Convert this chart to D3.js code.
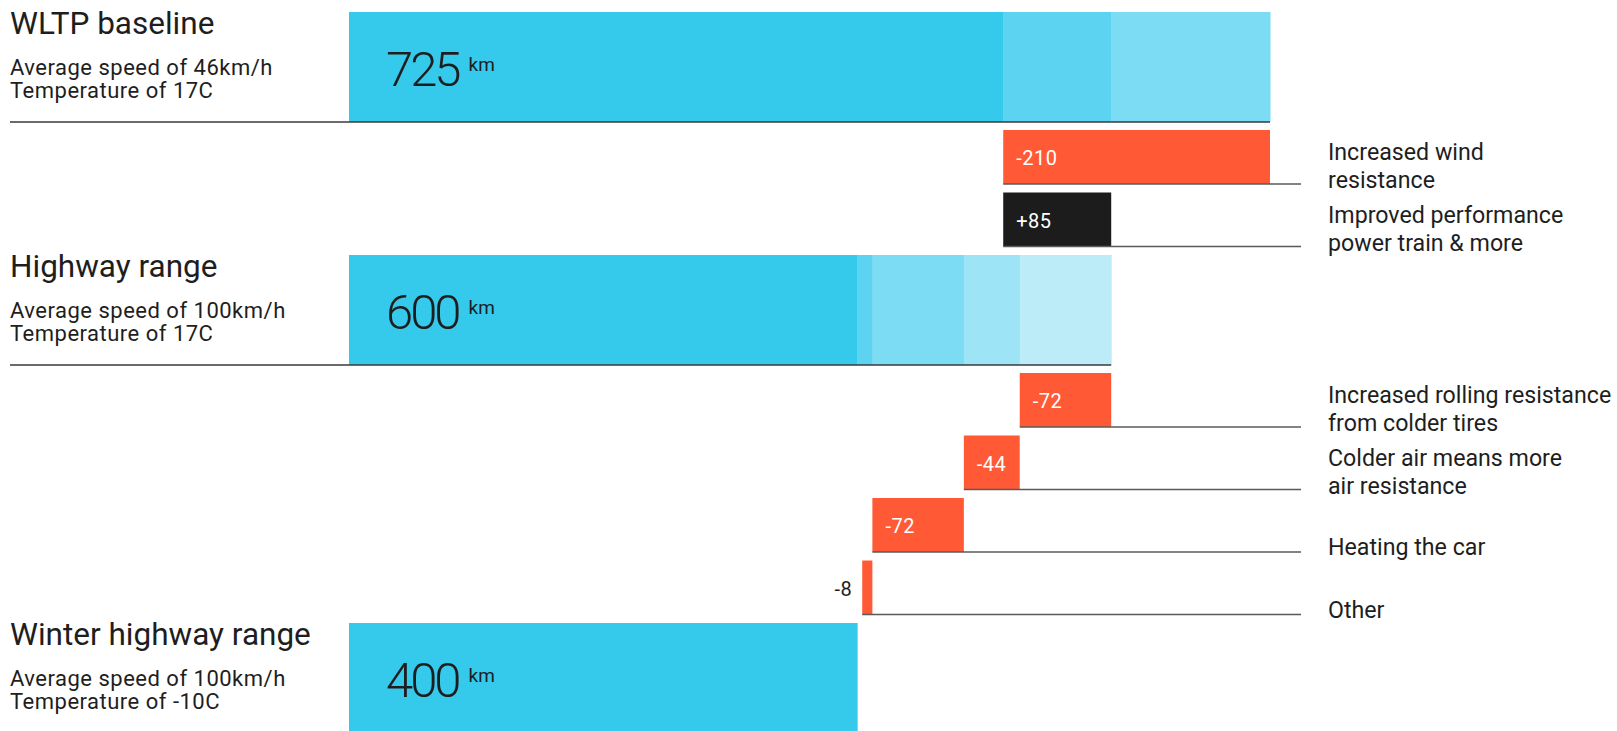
<!DOCTYPE html>
<html>
<head>
<meta charset="utf-8">
<script src="https://cdn.jsdelivr.net/npm/d3@7"></script>
<style>
  html, body { margin: 0; padding: 0; background: #fff; }
  svg { display: block; }
  text { font-family: Roboto, "Noto Sans", sans-serif; }
</style>
</head>
<body>
<svg id="chart" width="1617" height="731"></svg>
<script>
// Range summaries (km)
const summaryNames = ["WLTP baseline", "Highway range", "Winter highway range"];
const summarySpeed = ["Average speed of 46km/h", "Average speed of 100km/h", "Average speed of 100km/h"];
const summaryTemp  = ["Temperature of 17C", "Temperature of 17C", "Temperature of -10C"];
const summaryRange = [725, 600, 400];

// Changes applied between summaries (km)
const changeValues = [-210, 85, -72, -44, -72, -8];
const changeLabels = [
  ["Increased wind", "resistance"],
  ["Improved performance", "power train & more"],
  ["Increased rolling resistance", "from colder tires"],
  ["Colder air means more", "air resistance"],
  ["Heating the car"],
  ["Other"]
];
// Which summary each change follows
const changeSection = [0, 0, 1, 1, 1, 1];

const blueShades = ["#35c9ec", "#5cd3f0", "#7cdcf3", "#9de4f6", "#bcecf8"];
const lossColor = "#ff5a35";
const gainColor = "#1c1c1c";

const svg = d3.select("#chart");
const x = d3.scaleLinear().domain([0, 725]).range([349, 1270]);

const summaryH = 110, changeH = 54, changePitch = 62.5, gap = 8, top0 = 12;
const labelX = 1328, leaderEnd = 1301, leftX = 10;

// Build the row sequence: summary, its changes, next summary ...
const rows = [];
let y = top0;
summaryRange.forEach((v, si) => {
  rows.push({ type: "summary", i: si, y });
  y += summaryH + gap;
  let running = v;
  changeValues.forEach((c, ci) => {
    if (changeSection[ci] !== si) return;
    const from = running, to = running + c;
    rows.push({ type: "change", i: ci, y, from, to });
    running = to;
    y += changePitch;
  });
});

// Segment boundaries inside each summary bar: start of every following change, plus next summary
function segmentsFor(si) {
  const v = summaryRange[si];
  const stops = new Set([0, v]);
  rows.filter(r => r.type === "change" && changeSection[r.i] === si).forEach(r => stops.add(r.from));
  if (si + 1 < summaryRange.length) stops.add(summaryRange[si + 1]);
  const s = Array.from(stops).filter(d => d <= v).sort((a, b) => a - b);
  return d3.pairs(s).map(([a, b], k) => ({ a, b, k }));
}

// Summary rows
rows.filter(r => r.type === "summary").forEach(r => {
  const g = svg.append("g");
  const segs = segmentsFor(r.i);
  g.selectAll("rect").data(segs).join("rect")
    .attr("x", d => x(d.a))
    .attr("width", d => x(d.b) - x(d.a) + 0.5)
    .attr("y", r.y)
    .attr("height", summaryH)
    .attr("fill", d => blueShades[Math.min(d.k, blueShades.length - 1)]);

  g.append("line")
    .attr("x1", leftX).attr("x2", x(summaryRange[r.i]))
    .attr("y1", r.y + summaryH).attr("y2", r.y + summaryH)
    .attr("stroke", "#3a3a3a").attr("stroke-width", 1.6);

  g.append("text").attr("x", leftX).attr("y", r.y + 22)
    .attr("font-size", 31.5).attr("fill", "#1e1e1e").text(summaryNames[r.i]);
  g.append("text").attr("x", leftX).attr("y", r.y + 63)
    .attr("font-size", 22).attr("letter-spacing", 0.5).attr("fill", "#1e1e1e").text(summarySpeed[r.i]);
  g.append("text").attr("x", leftX).attr("y", r.y + 86)
    .attr("font-size", 22).attr("letter-spacing", 0.5).attr("fill", "#1e1e1e").text(summaryTemp[r.i]);

  const big = g.append("text").attr("x", x(0) + 37).attr("y", r.y + 74)
    .attr("font-size", 49).attr("font-weight", 300).attr("fill", "#1e1e1e");
  big.append("tspan").attr("letter-spacing", -3).text(summaryRange[r.i]);
  big.append("tspan").attr("font-size", 19).attr("font-weight", 400)
    .attr("dx", 10).attr("dy", -15).text("km");
});

// Change rows
rows.filter(r => r.type === "change").forEach(r => {
  const g = svg.append("g");
  const v = changeValues[r.i];
  const x0 = x(Math.min(r.from, r.to)), x1 = x(Math.max(r.from, r.to));
  g.append("rect")
    .attr("x", x0).attr("width", x1 - x0)
    .attr("y", r.y).attr("height", changeH)
    .attr("fill", v < 0 ? lossColor : gainColor);

  g.append("line")
    .attr("x1", x0).attr("x2", leaderEnd)
    .attr("y1", r.y + changeH).attr("y2", r.y + changeH)
    .attr("stroke", "#5a5a5a").attr("stroke-width", 1.6);

  const txt = (v > 0 ? "+" : "") + d3.format("d")(v).replace("−", "-");
  const wide = (x1 - x0) > 30;
  g.append("text")
    .attr("x", wide ? x0 + 13 : x0 - 10)
    .attr("y", r.y + 35)
    .attr("text-anchor", wide ? "start" : "end")
    .attr("font-size", 20)
    .attr("letter-spacing", 0.5)
    .attr("fill", wide ? "#fff" : "#1e1e1e")
    .text(txt);

  const lines = changeLabels[r.i];
  const offs = lines.length === 2 ? [30, 58] : [57];
  lines.forEach((t, k) => {
    g.append("text").attr("x", labelX).attr("y", r.y + offs[k])
      .attr("font-size", 23.2).attr("fill", "#1e1e1e").text(t);
  });
});
</script>
</body>
</html>
